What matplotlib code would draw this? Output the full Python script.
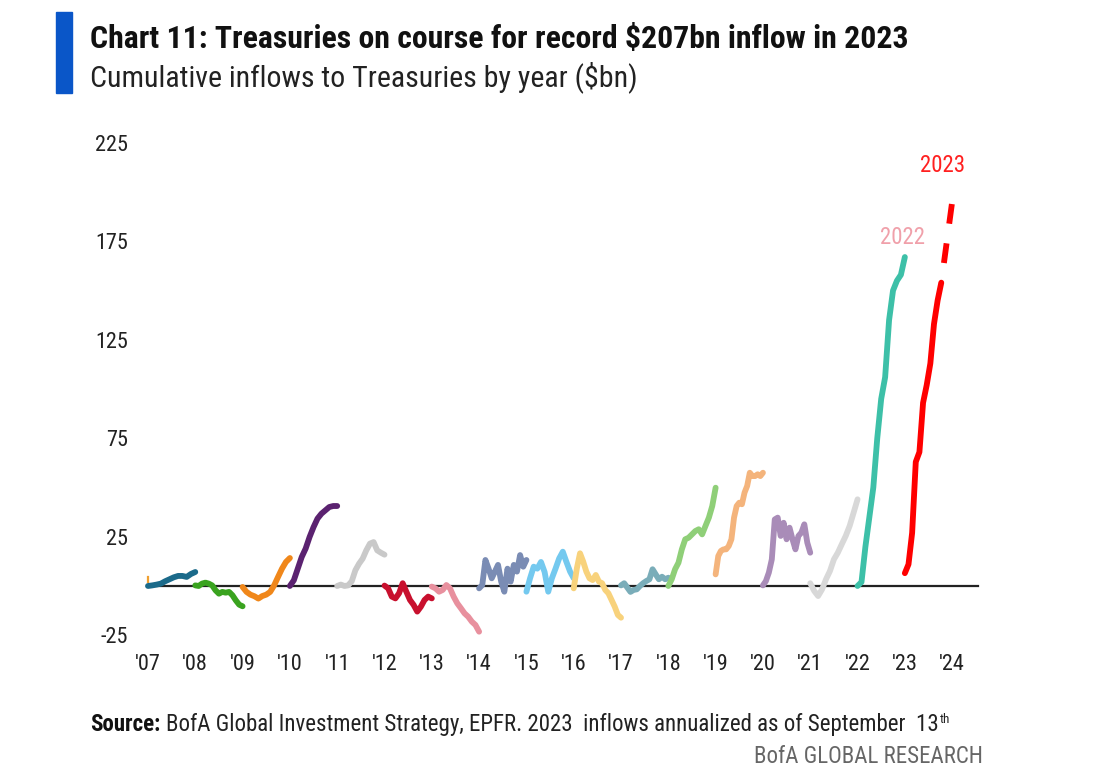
import numpy as np
import matplotlib
matplotlib.use("Agg")
import matplotlib.pyplot as plt
from matplotlib import font_manager as fm
from matplotlib.patches import Rectangle


def has_font(name):
    try:
        fm.findfont(fm.FontProperties(family=name), fallback_to_default=False)
        return True
    except ValueError:
        return False


narrow = [f for f in ['Liberation Sans Narrow', 'Roboto Condensed', 'Open Sans Condensed']
          if has_font(f)]
plt.rcParams['font.family'] = narrow[:1] + ['Liberation Sans', 'DejaVu Sans']
plt.rcParams['axes.unicode_minus'] = False

# cumulative inflows ($bn), one list per calendar year
flows_2006_tail = [2.0, 4.6]
flows_2007 = [0, 0.3, 0.7, 1.2, 2.4, 3.4, 4.4, 5.1, 5.1, 4.6, 6.1, 7.1]
flows_2008 = [0.3, 0, 1.2, 1.7, 1.2, 0.3, -2.2, -3.9, -3.0, -3.4, -3.0, -4.7, -7.3, -9.5, -10.3]
flows_2009 = [-0.5, -3.0, -4.4, -5.2, -6.4, -5.1, -4.4, -3.0, 0.3, 4.6, 8.8, 12.2, 14.2]
flows_2010 = [0, 2.9, 8.8, 14.7, 19.0, 24.9, 29.9, 34.2, 36.7, 38.4, 40.1, 40.6, 40.6]
flows_2011 = [0, 0.7, 0, 0.3, 2.4, 8.0, 11.3, 13.9, 18.1, 21.5, 22.3, 18.1, 16.9, 15.9]
flows_2012 = [0.2, -1.2, -5.4, -6.3, -3.7, 1.4, -2.9, -7.1, -9.6, -13.0, -10.5, -7.1, -5.4, -6.3]
flows_2013 = [-0.3, -1.2, -2.9, -2.0, 0.5, -1.2, -5.4, -8.8, -11.3, -13.9, -15.6, -18.1, -19.8, -23.2]
flows_2014 = [-1.2, 0.5, 13.2, 8.8, 3.9, 7.3, 10.7, 2.2, -2.9, 8.8, 2.2, 10.7, 7.3, 15.7, 9.8, 13.2]
flows_2015 = [-2.9, 3.9, 9.8, 8.8, 12.2, 7.1, -2.9, 3.9, 8.8, 14.0, 17.4, 12.2, 7.3, 3.9]
flows_2016 = [-1.2, 9.0, 16.6, 12.4, 7.3, 3.9, 3.0, 5.6, 2.2, 1.4, -2.0, -3.7, -7.1, -10.5, -14.7, -16.1]
flows_2017 = [0.3, 1.4, -0.8, -3.0, -2.0, -1.7, 0, 1.4, 2.5, 3.4, 8.5, 5.9, 3.4, 4.7, 3.4, 4.2]
flows_2018 = [0, 3.4, 8.5, 11.8, 18.6, 23.7, 24.5, 26.2, 27.9, 28.8, 26.2, 30.5, 34.7, 40.6, 49.9]
flows_2019 = [5.9, 15.2, 17.8, 18.6, 18.6, 20.3, 23.7, 34.7, 40.6, 42.3, 41.5, 47.4, 50.8, 57.5,
              55.8, 55.8, 56.7, 55.8, 57.5]
flows_2020 = [0.3, 2.5, 6.8, 13.5, 33.8, 34.7, 25.4, 32.1, 23.7, 29.6, 23.7, 18.6, 25.4, 27.1,
              31.3, 22.0, 16.9]
flows_2021 = [1.4, -2.5, -5.1, -1.7, 3.4, 7.6, 13.5, 16.9, 21.2, 25.4, 30.5, 37.2, 44.0]
flows_2022 = [0, 2, 20, 35, 50, 75, 95, 106, 135, 150, 155, 158, 167]
flows_2023 = [6.5, 11, 27, 63, 68, 93, 102, 113, 133, 145, 154]
flows_2023_proj = [154, 195]
ytd_2023 = 0.77  # fraction of 2023 covered by actual data

year_flows = [flows_2007, flows_2008, flows_2009, flows_2010, flows_2011, flows_2012,
              flows_2013, flows_2014, flows_2015, flows_2016, flows_2017, flows_2018,
              flows_2019, flows_2020, flows_2021, flows_2022]
year_colors = ['#1b6a8a', '#3aa31f', '#f0871a', '#5b2270', '#c9c9c9', '#c8102e',
               '#e8909e', '#7a8cb4', '#74c9ef', '#f8d27c', '#7aadb9', '#8fcf78',
               '#f4b47c', '#a98cb8', '#d8d8d8', '#3dc0a8']

tick_years = list(range(2007, 2025))
tick_labels = ["'%02d" % (y % 100) for y in tick_years]
y_ticks = [-25, 25, 75, 125, 175, 225]

fig = plt.figure(figsize=(11, 7.83), dpi=100)
W, H = 1100, 783
ax = fig.add_axes([130 / W, 133 / H, 860 / W, 520 / H])
ax.set_xlim(2006.62, 2024.80)
ax.set_ylim(-32.5, 231.5)

# zero line
ax.plot([2007, 2024.55], [0, 0], color='#222222', lw=1.6, zorder=1)

lw = 4.2
ax.plot([2007, 2007], flows_2006_tail, color='#f0a030', lw=1.6, zorder=2)
for i, vals in enumerate(year_flows):
    yr = 2007 + i
    xs = np.linspace(yr, yr + 1, len(vals))
    ax.plot(xs, vals, color=year_colors[i], lw=lw, solid_capstyle='round',
            solid_joinstyle='round', zorder=3)

xs23 = np.linspace(2023, 2023 + ytd_2023, len(flows_2023))
ax.plot(xs23, flows_2023, color='#ff0000', lw=lw, solid_capstyle='round',
        solid_joinstyle='round', zorder=3)
ax.plot([2023 + ytd_2023, 2024.0], flows_2023_proj, color='#ff0000', lw=lw,
        linestyle=(3.4, (3.4, 3.4)), dash_capstyle='butt', zorder=3)

ax.text(2022.96, 177, '2022', color='#f0a0aa', fontsize=16.5, ha='center', va='center')
ax.text(2023.79, 213.5, '2023', color='#ff2020', fontsize=16.5, ha='center', va='center')

ax.set_xticks(tick_years)
ax.set_xticklabels(tick_labels)
ax.set_yticks(y_ticks)
ax.tick_params(axis='both', length=0, labelsize=16, labelcolor='#222222')
ax.tick_params(axis='y', pad=1.5)
ax.tick_params(axis='x', pad=3)
for s in ax.spines.values():
    s.set_visible(False)

# header
fig.patches.append(Rectangle((56 / W, 1 - 93 / H), 16 / W, 81 / H, transform=fig.transFigure,
                             color='#0a56c8', zorder=5))
fig.canvas.draw()
r = fig.canvas.get_renderer()


def fit_text(x, y, s, width, size, **kw):
    # shrink or grow the font so the line spans the same width as the original
    t = fig.text(x / W, 1 - y / H, s, fontsize=size, va='baseline', **kw)
    w = t.get_window_extent(r).width
    t.set_fontsize(size * width / w)
    return t


fit_text(90, 48, 'Chart 11: Treasuries on course for record $207bn inflow in 2023', 815, 20,
         weight='bold', color='#111111')
fit_text(90, 86, 'Cumulative inflows to Treasuries by year ($bn)', 547, 18, color='#222222')

# footer
yb = 1 - 731 / H
fs = 16.5
t1 = fig.text(90 / W, yb, 'Source:', fontsize=fs, weight='bold', color='#111111', va='baseline')
b1 = t1.get_window_extent(r)
t2 = fig.text((b1.x1 + 6) / W, yb,
              'BofA Global Investment Strategy, EPFR. 2023  inflows annualized as of September  13',
              fontsize=fs, color='#222222', va='baseline')
b2 = t2.get_window_extent(r)
fig.text((b2.x1 + 1) / W, yb + 8 / H, 'th', fontsize=9.5, color='#222222', va='baseline')
fig.text(983 / W, 1 - 763 / H, 'BofA GLOBAL RESEARCH', fontsize=16.5, color='#666666',
         ha='right', va='baseline')

fig.savefig('out.png', dpi=100)
